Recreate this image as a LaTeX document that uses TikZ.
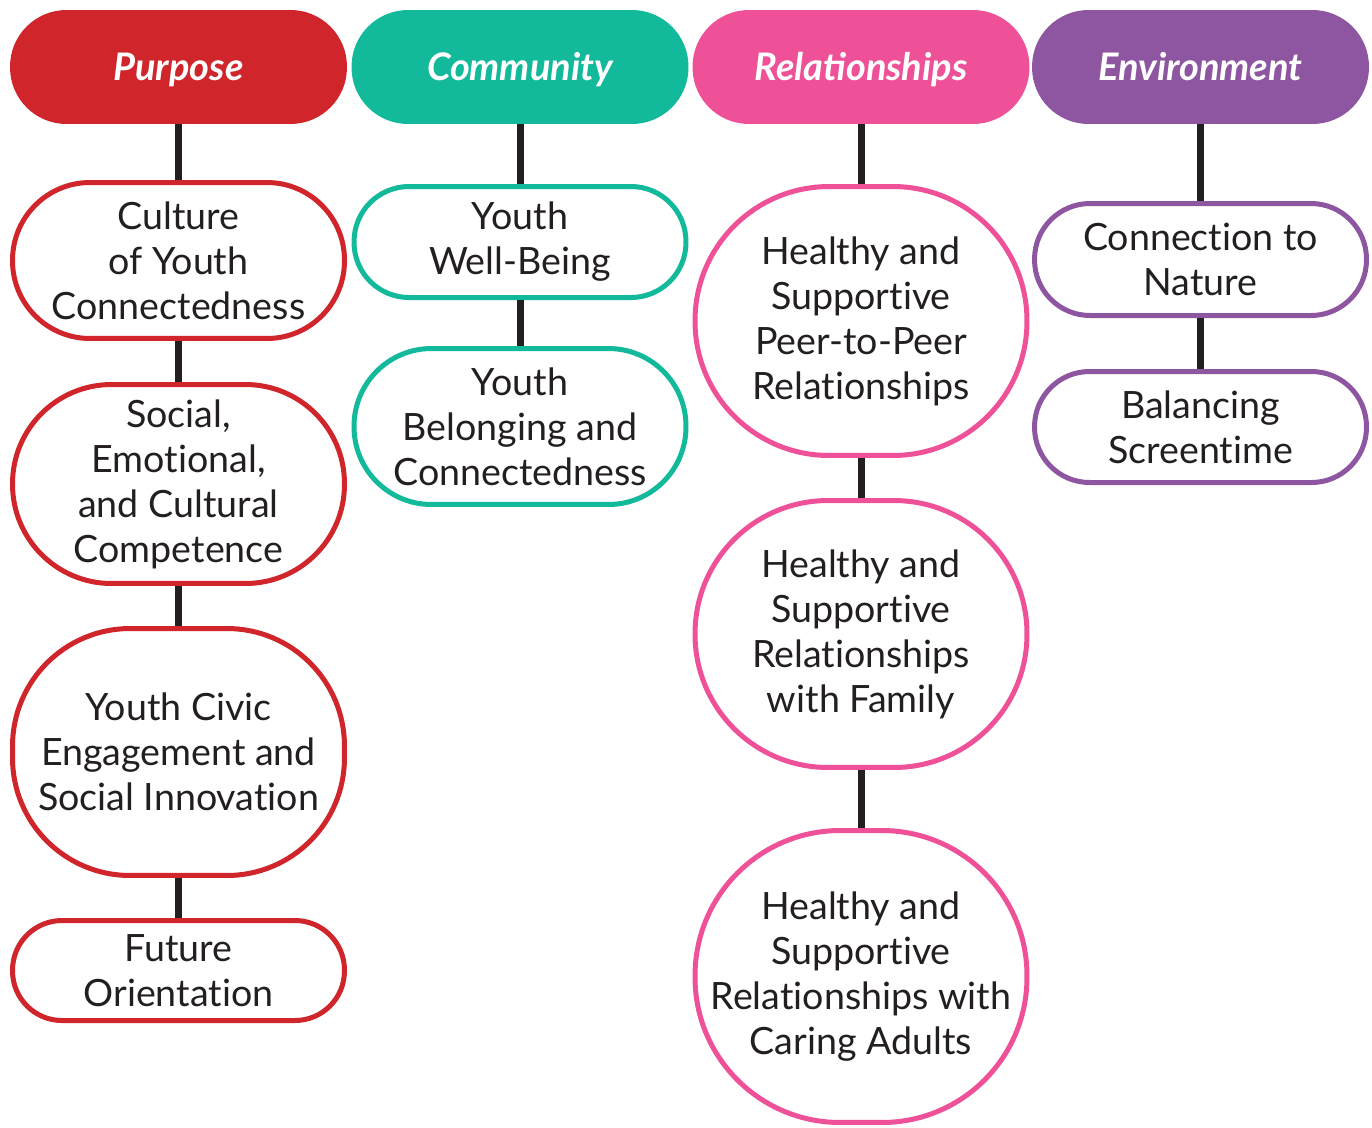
\documentclass[tikz,border=0pt]{standalone}
\usepackage{fontspec}
\setmainfont{Lato}[Ligatures=NoCommon]
\newfontfamily\headfont{Lato}
\definecolor{cred}{HTML}{D0252B}
\definecolor{cteal}{HTML}{13B99B}
\definecolor{cpink}{HTML}{EE5197}
\definecolor{cpurple}{HTML}{8E55A0}
\definecolor{ink}{HTML}{231F20}
\tikzset{
  head/.style={rectangle, fill=#1, text=white, minimum width=6.74cm, minimum height=2.28cm,
    rounded corners=1.13cm, inner sep=0pt, text height=0.54cm, text depth=0pt,
    font=\headfont\fontsize{21.6}{25}\selectfont\bfseries\itshape},
  item/.style={rectangle, draw=#1, fill=white, line width=0.1cm, text=ink,
    minimum width=6.64cm, inner sep=0pt, align=center,
    font=\fontsize{21.4}{25.6}\selectfont},
  conn/.style={draw=ink, line width=0.14cm},
}
\begin{document}
\begin{tikzpicture}[x=0.02cm,y=-0.02cm]
\useasboundingbox (0,0) rectangle (1372,1127);
% headers
\node[head=cred] (hP) at (178.5,67) {Purpose};
\node[head=cteal] (hC) at (520,67) {Community};
\node[head=cpink] (hR) at (861,67) {Relationships};
\node[head=cpurple] (hE) at (1200.5,67) {Environment};
% Purpose
\node[item=cred, minimum height=3.12cm, rounded corners=1.55cm] (p1) at (178.5,260.5) {Culture\\of Youth\\Connectedness};
\node[item=cred, minimum height=3.98cm, rounded corners=1.98cm] (p2) at (178.5,484) {Social,\\Emotional,\\and Cultural\\Competence};
\node[item=cred, minimum height=4.94cm, rounded corners=2.35cm] (p3) at (178.5,752) {Youth Civic\\Engagement and\\Social Innovation};
\node[item=cred, minimum height=2.0cm, rounded corners=0.99cm] (p4) at (178.5,970.5) {Future\\Orientation};
% Community
\node[item=cteal, minimum height=2.22cm, rounded corners=1.1cm] (c1) at (520,242) {Youth\\Well-Being};
\node[item=cteal, minimum height=3.12cm, rounded corners=1.55cm] (c2) at (520,426.5) {Youth\\Belonging and\\Connectedness};
% Relationships
\node[item=cpink, minimum height=5.38cm, rounded corners=2.68cm] (r1) at (861,321) {Healthy and\\Supportive\\Peer-to-Peer\\Relationships};
\node[item=cpink, minimum height=5.34cm, rounded corners=2.66cm] (r2) at (861,634) {Healthy and\\Supportive\\Relationships\\with Family};
\node[item=cpink, minimum height=5.84cm, rounded corners=2.9cm] (r3) at (861,976.5) {Healthy and\\Supportive\\Relationships with\\Caring Adults};
% Environment
\node[item=cpurple, minimum height=2.24cm, rounded corners=1.11cm] (e1) at (1200.5,259.5) {Connection to\\Nature};
\node[item=cpurple, minimum height=2.22cm, rounded corners=1.1cm] (e2) at (1200.5,427) {Balancing\\Screentime};
% connectors
\draw[conn] (hP.south) -- (p1.north);
\draw[conn] (p1.south) -- (p2.north);
\draw[conn] (p2.south) -- (p3.north);
\draw[conn] (p3.south) -- (p4.north);
\draw[conn] (hC.south) -- (c1.north);
\draw[conn] (c1.south) -- (c2.north);
\draw[conn] (hR.south) -- (r1.north);
\draw[conn] (r1.south) -- (r2.north);
\draw[conn] (r2.south) -- (r3.north);
\draw[conn] (hE.south) -- (e1.north);
\draw[conn] (e1.south) -- (e2.north);
\end{tikzpicture}
\end{document}
